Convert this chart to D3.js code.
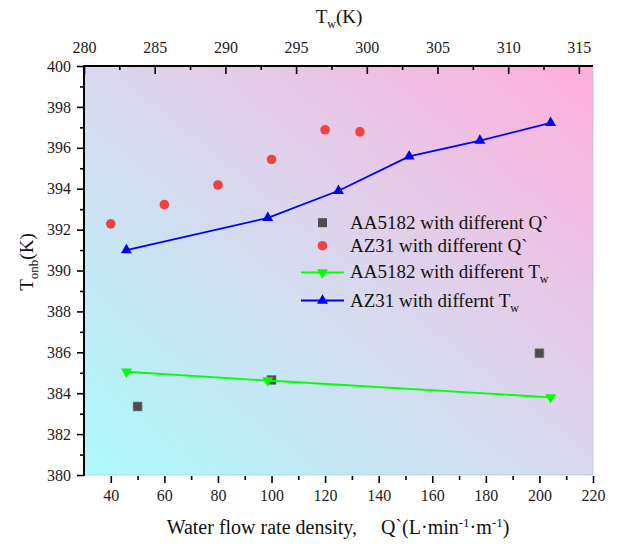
<!DOCTYPE html>
<html>
<head>
<meta charset="utf-8">
<script src="https://cdn.jsdelivr.net/npm/d3@7"></script>
<style>
  body { margin: 0; background: #fff; }
</style>
</head>
<body>
<div id="chart"></div>
<script>
// data
const qAA5182 = [50, 100, 200];
const tonbAA5182Q = [383.35, 384.65, 385.95];
const qAZ31 = [40, 60, 80, 100, 120, 133];
const tonbAZ31Q = [392.28, 393.22, 394.18, 395.43, 396.88, 396.78];
const twAA5182 = [283, 293, 313];
const tonbAA5182T = [385.05, 384.62, 383.8];
const twAZ31 = [283, 293, 298, 303, 308, 313];
const tonbAZ31T = [391.0, 392.57, 393.9, 395.58, 396.35, 397.22];

const qTicks = [40, 60, 80, 100, 120, 140, 160, 180, 200, 220];
const twTicks = [280, 285, 290, 295, 300, 305, 310, 315];
const yTicks = d3.range(380, 401, 2);

const W = 618, H = 545;
const m = {top: 66, right: 25, bottom: 70, left: 84};
const FONT = '"Liberation Serif", Tinos, "DejaVu Serif", "Noto Serif", serif';

const svg = d3.select('#chart').append('svg')
  .attr('width', W)
  .attr('height', H)
  .style('font-family', FONT);

const x = d3.scaleLinear().domain([30, 220]).range([m.left, W - m.right]);
const xTop = d3.scaleLinear().domain([280, 316]).range([m.left, W - m.right]);
const y = d3.scaleLinear().domain([380, 400]).range([H - m.bottom, m.top]);

// background gradient
const grad = svg.append('defs').append('linearGradient')
  .attr('id', 'bg')
  .attr('x1', 0).attr('y1', 1)
  .attr('x2', 1).attr('y2', 0);
grad.append('stop').attr('offset', '0%').attr('stop-color', '#acfafc');
grad.append('stop').attr('offset', '50%').attr('stop-color', '#d9d8ee');
grad.append('stop').attr('offset', '100%').attr('stop-color', '#ffaedb');

svg.append('rect')
  .attr('x', m.left)
  .attr('y', m.top)
  .attr('width', W - m.left - m.right)
  .attr('height', H - m.top - m.bottom)
  .attr('fill', 'url(#bg)')
  .attr('stroke', '#9fc3cf')
  .attr('stroke-opacity', 0.6)
  .attr('stroke-width', 1);

// axes
function styleAxis(g) {
  g.attr('font-family', null);
  g.select('.domain').remove();
  g.selectAll('.tick line').attr('stroke', '#000').attr('stroke-width', 1.6);
  g.selectAll('.tick text')
    .style('font-family', FONT)
    .style('font-size', '16px')
    .attr('fill', '#222');
}

svg.append('g')
  .attr('transform', `translate(${m.left},0)`)
  .call(d3.axisLeft(y).tickValues(yTicks).tickSize(7).tickPadding(6).tickFormat(d3.format('d')))
  .call(styleAxis);
svg.append('g')
  .attr('transform', `translate(${m.left},0)`)
  .call(d3.axisLeft(y).tickValues(d3.range(381, 400, 2)).tickSize(4).tickFormat(''))
  .call(styleAxis);

svg.append('g')
  .attr('transform', `translate(0,${H - m.bottom + 1})`)
  .call(d3.axisBottom(x).tickValues(qTicks).tickSize(7).tickPadding(7))
  .call(styleAxis);
svg.append('g')
  .attr('transform', `translate(0,${H - m.bottom + 1})`)
  .call(d3.axisBottom(x).tickValues(d3.range(50, 220, 20)).tickSize(4).tickFormat(''))
  .call(styleAxis);

// top axis: ticks point inward, labels above
svg.append('g')
  .attr('transform', `translate(0,${m.top})`)
  .call(d3.axisTop(xTop).tickValues(twTicks).tickSize(-8).tickPadding(13))
  .call(styleAxis);
svg.append('g')
  .attr('transform', `translate(0,${m.top})`)
  .call(d3.axisTop(xTop).tickValues(d3.range(282.5, 316, 5)).tickSize(-4).tickFormat(''))
  .call(styleAxis);

// axis lines
svg.append('line')
  .attr('x1', m.left).attr('x2', m.left)
  .attr('y1', m.top - 1).attr('y2', H - m.bottom + 1)
  .attr('stroke', '#000').attr('stroke-width', 2);
svg.append('line')
  .attr('x1', m.left - 1).attr('x2', W - m.right)
  .attr('y1', m.top).attr('y2', m.top)
  .attr('stroke', '#000').attr('stroke-width', 2);

// axis titles
function title(sel) {
  return sel.style('font-family', FONT).style('font-size', '19px').attr('fill', '#111');
}

const xt = svg.append('text')
  .attr('x', 338).attr('y', 534)
  .attr('text-anchor', 'middle')
  .call(title)
  .style('font-size', '20px');
xt.append('tspan').text('Water flow rate density,');
xt.append('tspan').attr('dx', 24).text('Q`(L·min');
xt.append('tspan').attr('dy', -7).style('font-size', '13px').text('-1');
xt.append('tspan').attr('dy', 7).text('·m');
xt.append('tspan').attr('dy', -7).style('font-size', '13px').text('-1');
xt.append('tspan').attr('dy', 7).text(')');

const tt = svg.append('text')
  .attr('x', 339).attr('y', 23)
  .attr('text-anchor', 'middle')
  .call(title);
tt.append('tspan').text('T');
tt.append('tspan').attr('dy', 5).style('font-size', '12px').text('w');
tt.append('tspan').attr('dy', -5).text('(K)');

const yt = svg.append('text')
  .attr('transform', 'translate(33,262) rotate(-90)')
  .attr('text-anchor', 'middle')
  .call(title);
yt.append('tspan').text('T');
yt.append('tspan').attr('dy', 5).style('font-size', '13px').text('onb');
yt.append('tspan').attr('dy', -5).text('(K)');

// series
const colGrey = '#4d4d4d', colRed = '#f24141', colGreen = '#00ff00', colBlue = '#0000ff';
const triUp = d3.symbol().type(d3.symbolTriangle).size(52);

const sq = d3.zip(qAA5182, tonbAA5182Q);
svg.append('g').selectAll('rect')
  .data(sq)
  .join('rect')
  .attr('x', d => x(d[0]) - 4.5)
  .attr('y', d => y(d[1]) - 4.5)
  .attr('width', 9).attr('height', 9)
  .attr('fill', colGrey)
  .attr('stroke', '#888').attr('stroke-width', 0.6);

const circ = d3.zip(qAZ31, tonbAZ31Q);
svg.append('g').selectAll('circle')
  .data(circ)
  .join('circle')
  .attr('cx', d => x(d[0]))
  .attr('cy', d => y(d[1]))
  .attr('r', 4.8)
  .attr('fill', colRed);

const line = d3.line().x(d => xTop(d[0])).y(d => y(d[1]));

const green = d3.zip(twAA5182, tonbAA5182T);
svg.append('path')
  .attr('d', line(green))
  .attr('fill', 'none')
  .attr('stroke', colGreen)
  .attr('stroke-width', 1.8);
svg.append('g').selectAll('path')
  .data(green)
  .join('path')
  .attr('d', triUp)
  .attr('transform', d => `translate(${xTop(d[0])},${y(d[1])}) rotate(180)`)
  .attr('fill', colGreen);

const blue = d3.zip(twAZ31, tonbAZ31T);
svg.append('path')
  .attr('d', line(blue))
  .attr('fill', 'none')
  .attr('stroke', colBlue)
  .attr('stroke-width', 1.8);
svg.append('g').selectAll('path')
  .data(blue)
  .join('path')
  .attr('d', triUp)
  .attr('transform', d => `translate(${xTop(d[0])},${y(d[1])})`)
  .attr('fill', colBlue);

// legend
const lgX = 322.5, lgTextX = 350;
const rows = [222.7, 245.7, 272.3, 300.5];
const leg = svg.append('g');

leg.append('rect')
  .attr('x', lgX - 4.5).attr('y', rows[0] - 4.5)
  .attr('width', 9).attr('height', 9)
  .attr('fill', colGrey);
leg.append('circle')
  .attr('cx', lgX).attr('cy', rows[1]).attr('r', 4.8)
  .attr('fill', colRed);
[[colGreen, rows[2], 180], [colBlue, rows[3], 0]].forEach(([c, ry, rot]) => {
  leg.append('line')
    .attr('x1', 301).attr('x2', 344)
    .attr('y1', ry).attr('y2', ry)
    .attr('stroke', c).attr('stroke-width', 1.8);
  leg.append('path')
    .attr('d', triUp)
    .attr('transform', `translate(${lgX},${ry}) rotate(${rot})`)
    .attr('fill', c);
});

const labels = [
  ['AA5182 with different Q`', null],
  ['AZ31 with different Q`', null],
  ['AA5182 with different T', 'w'],
  ['AZ31 with differnt T', 'w']
];
labels.forEach(([t, sub], i) => {
  const tx = leg.append('text')
    .attr('x', lgTextX).attr('y', rows[i] + 6)
    .call(title);
  tx.append('tspan').text(t);
  if (sub) tx.append('tspan').attr('dy', 5).style('font-size', '12px').text(sub);
});
</script>
</body>
</html>
